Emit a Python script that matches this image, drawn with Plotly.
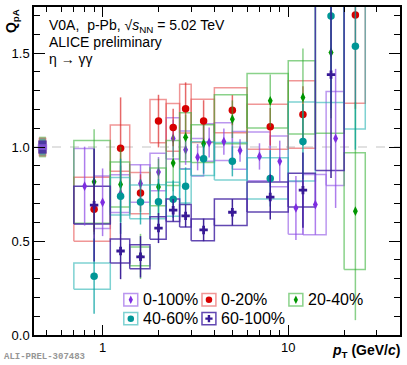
import numpy as np
import plotly.graph_objects as go

# ---- data ----
classes = ["0-100%", "0-20%", "20-40%", "40-60%", "60-100%"]

# 0-100% uses finer pT bins
mb_edges = [0.7, 0.9, 1.1, 1.4, 1.8, 2.2, 2.6, 3.0, 3.5, 4.0, 5.0, 6.0, 8.0, 10.0, 12.0, 16.0, 20.0]
mb_q = [0.792, 0.706, 0.752, 0.806, 0.867, 1.046, 0.985, 0.946, 1.024, 1.029, 0.982, 0.950, 0.924, 0.676, 0.694, 1.046]
mb_stat = [0.21, 0.18, 0.15, 0.10, 0.08, 0.10, 0.08, 0.07, 0.08, 0.07, 0.06, 0.07, 0.11, 0.17, 0.16, 0.37]
mb_sys = [0.20, 0.14, 0.10, 0.10, 0.10, 0.11, 0.10, 0.10, 0.10, 0.10, 0.10, 0.13, 0.135, 0.14, 0.16, 0.25]

# centrality classes
cent_edges = [0.7, 1.1, 1.4, 1.8, 2.2, 2.6, 3.0, 4.0, 6.0, 10.0, 14.0, 20.0, 26.0]

c0_20_q = [0.669, 0.994, 0.755, 1.138, 1.104, 1.204, 1.139, 1.196, 1.108, 1.173, None, 1.703]
c0_20_stat = [0.12, 0.27, 0.10, 0.14, 0.10, 0.14, 0.11, 0.08, 0.10, 0.15, None, 0.50]
c0_20_sys = [0.17, 0.123, 0.11, 0.115, 0.127, 0.13, 0.115, 0.12, 0.12, 0.18, None, 0.47]

c20_40_q = [0.815, 0.801, 0.418, 0.788, 0.915, 1.052, 1.018, 1.148, 1.246, 1.264, 1.503, 0.659]
c20_40_stat = [0.28, 0.20, 0.12, 0.15, 0.15, 0.12, 0.10, 0.10, 0.14, 0.26, 0.35, 0.58]
c20_40_sys = [0.22, 0.12, 0.05, 0.10, 0.12, 0.13, 0.10, 0.13, 0.145, 0.195, 0.43, 0.31]

c40_60_q = [0.313, 0.738, 0.708, 0.709, 0.722, 0.792, 0.938, 0.924, 0.833, 1.029, 1.697, 1.536]
c40_60_stat = [0.20, 0.20, 0.12, 0.12, 0.10, 0.10, 0.08, 0.08, 0.15, 0.20, 0.50, 0.55]
c40_60_sys = [0.07, 0.10, 0.09, 0.09, 0.09, 0.09, 0.09, 0.10, 0.11, 0.21, 0.46, 0.44]

c60_100_q = [0.691, 0.447, 0.416, 0.569, 0.664, 0.634, 0.559, 0.653, 0.734, 0.771, 1.385, None]
c60_100_stat = [0.30, 0.15, 0.11, 0.08, 0.06, 0.06, 0.06, 0.07, 0.12, 0.20, 0.55, None]
c60_100_sys = [0.10, 0.064, 0.064, 0.06, 0.06, 0.06, 0.058, 0.07, 0.08, 0.09, 0.51, None]

# normalisation uncertainty per class
norm_unc = [0.015, 0.05, 0.055, 0.045, 0.035]

# ---- style ----
mcol = ["rgb(125,45,225)", "rgb(215,0,0)", "rgb(0,150,0)", "rgb(0,150,150)", "rgb(55,25,150)"]
bcol = ["rgba(150,95,230,0.65)", "rgba(230,80,80,0.6)", "rgba(60,180,60,0.6)",
        "rgba(40,180,180,0.6)", "rgba(70,40,165,0.85)"]
ecol = ["rgba(140,70,230,0.7)", "rgba(220,40,40,0.7)", "rgba(40,170,40,0.55)",
        "rgba(0,160,160,0.75)", "rgba(55,25,150,0.95)"]
msym = ["diamond-tall", "circle", "diamond-tall", "circle", "cross"]
msize = [7, 7.5, 7, 7.5, 7]
norm_x = [(0.447, 0.503), (0.452, 0.498), (0.455, 0.495), (0.457, 0.493), (0.450, 0.500)]

series = [
    (mb_edges, mb_q, mb_stat, mb_sys),
    (cent_edges, c0_20_q, c0_20_stat, c0_20_sys),
    (cent_edges, c20_40_q, c20_40_stat, c20_40_sys),
    (cent_edges, c40_60_q, c40_60_stat, c40_60_sys),
    (cent_edges, c60_100_q, c60_100_stat, c60_100_sys),
]

fig = go.Figure()

# systematic boxes
for i, (edges, q, st, sy) in enumerate(series):
    bx, by = [], []
    for j in range(len(q)):
        if q[j] is None:
            continue
        lo, hi = edges[j], edges[j + 1]
        bx += [lo, hi, hi, lo, lo, None]
        by += [q[j] - sy[j], q[j] - sy[j], q[j] + sy[j], q[j] + sy[j], q[j] - sy[j], None]
    fig.add_trace(go.Scatter(x=bx, y=by, mode="lines", line=dict(color=bcol[i], width=1.5),
                             hoverinfo="skip", showlegend=False))

# normalisation boxes at unity
for i in [2, 1, 3, 4, 0]:
    x0, x1 = norm_x[i]
    fig.add_trace(go.Scatter(x=[x0, x1, x1, x0, x0],
                             y=[1 - norm_unc[i], 1 - norm_unc[i], 1 + norm_unc[i], 1 + norm_unc[i], 1 - norm_unc[i]],
                             mode="lines", fill="toself", fillcolor=bcol[i], line=dict(width=0),
                             hoverinfo="skip", showlegend=False))

# points with stat errors
for i, (edges, q, st, sy) in enumerate(series):
    xs, ys, es = [], [], []
    for j in range(len(q)):
        if q[j] is None:
            continue
        xs.append(0.5 * (edges[j] + edges[j + 1]))
        ys.append(q[j])
        es.append(st[j])
    fig.add_trace(go.Scatter(
        x=xs, y=ys, mode="markers", name=classes[i],
        marker=dict(symbol=msym[i], size=msize[i], color=mcol[i], line=dict(width=0)),
        error_y=dict(type="data", array=es, color=ecol[i], thickness=1.5, width=0),
        showlegend=False))

# ---- hand-made ROOT style legend ----
leg_pos = [(0.2644, 0.1074), (0.478, 0.1074), (0.7155, 0.1074), (0.2644, 0.0499), (0.478, 0.0499)]
for i, (lx, ly) in enumerate(leg_pos):
    fig.add_trace(go.Scatter(x=[lx], y=[ly], xaxis="x2", yaxis="y2", mode="markers",
                             marker=dict(symbol=msym[i], size=msize[i] - 1, color=mcol[i]),
                             hoverinfo="skip", showlegend=False))
    fig.add_shape(type="rect", xref="paper", yref="paper", x0=lx - 0.019, x1=lx + 0.019,
                  y0=ly - 0.019, y1=ly + 0.019, line=dict(color=bcol[i], width=1.5))
    fig.add_annotation(x=lx + 0.028, y=ly, xref="paper", yref="paper", text=classes[i],
                       showarrow=False, xanchor="left", yanchor="middle",
                       font=dict(size=16, color="black"))

fig.add_shape(type="line", xref="paper", yref="y", x0=0, x1=1, y0=1, y1=1,
              line=dict(color="rgb(215,215,215)", width=1.5, dash="dash"), layer="below")

txt_font = dict(size=14, color="black", family="Liberation Sans, Arial")
fig.add_annotation(x=0.035, y=0.976, xref="paper", yref="paper", showarrow=False, xanchor="left",
                   text="V0A,  p-Pb, √<i>s</i><sub>NN</sub> = 5.02 TeV", font=txt_font)
fig.add_annotation(x=0.035, y=0.924, xref="paper", yref="paper", showarrow=False, xanchor="left",
                   text="ALICE preliminary", font=txt_font)
fig.add_annotation(x=0.035, y=0.872, xref="paper", yref="paper", showarrow=False, xanchor="left",
                   text="η → γγ", font=txt_font)

fig.add_annotation(x=-0.06, y=1.0, xref="paper", yref="paper", showarrow=False, textangle=-90,
                   xanchor="center", yanchor="top", text="<b>Q<sub>pA</sub></b>",
                   font=dict(size=14, color="black"))
fig.add_annotation(x=1.005, y=-0.05, xref="paper", yref="paper", showarrow=False,
                   xanchor="right", yanchor="middle",
                   text="<b><i>p</i><sub>T</sub> (GeV/<i>c</i>)</b>", font=dict(size=14, color="black"))
fig.add_annotation(x=-0.088, y=-0.068, xref="paper", yref="paper", showarrow=False,
                   xanchor="left", yanchor="middle", text="<b>ALI-PREL-307483</b>",
                   font=dict(size=9, color="rgb(150,150,150)", family="Liberation Mono"))

minor_x = [0.5, 0.6, 0.7, 0.8, 0.9, 2, 3, 4, 5, 6, 7, 8, 9, 20, 30, 40]
fig.update_layout(
    width=407, height=365,
    margin=dict(l=34, r=5, t=5, b=30),
    paper_bgcolor="white", plot_bgcolor="white",
    font=dict(family="Liberation Sans, Arial", color="black"),
    xaxis=dict(type="log", range=[np.log10(0.427), np.log10(40)],
               tickvals=[1, 10], ticktext=["1", "10"], ticks="inside", ticklen=10,
               tickcolor="black", showline=True, linecolor="black", linewidth=1.5,
               mirror="allticks", showgrid=False, zeroline=False,
               tickfont=dict(size=13),
               minor=dict(tickvals=minor_x, ticks="inside", ticklen=5, tickcolor="black")),
    yaxis=dict(range=[0, 1.745], tickvals=[0, 0.5, 1.0, 1.5], ticktext=["0.0", "0.5", "1.0", "1.5"],
               ticks="inside", ticklen=11, tickcolor="black", showline=True, linecolor="black",
               linewidth=1.5, mirror="allticks", showgrid=False, zeroline=False,
               tickfont=dict(size=13),
               minor=dict(dtick=0.1, ticks="inside", ticklen=6, tickcolor="black")),
    xaxis2=dict(domain=[0, 1], range=[0, 1], overlaying="x", anchor="y2", visible=False),
    yaxis2=dict(domain=[0, 1], range=[0, 1], overlaying="y", anchor="x2", visible=False),
    showlegend=False,
)

# page body has a default 8px margin; drop it so the figure sits at the window corner
fig.write_html("out.html", config={"displayModeBar": False},
               post_script="document.body.style.margin='0';")
